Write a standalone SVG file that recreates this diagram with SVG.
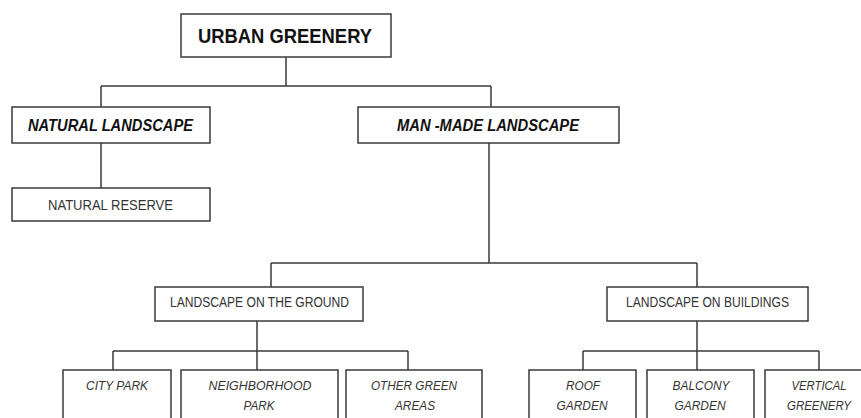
<svg xmlns="http://www.w3.org/2000/svg" width="861" height="418" viewBox="0 0 861 418">
<style>
.box{fill:#fff;stroke:#3a3a3a;stroke-width:1.5}
.ln{fill:none;stroke:#3a3a3a;stroke-width:1.5}
text{font-family:"Liberation Sans",Arial,sans-serif;text-anchor:middle}
.t1{font-size:21px;font-weight:bold;fill:#111}
.t2{font-size:16px;font-weight:bold;font-style:italic;fill:#111}
.t3{font-size:14px;fill:#333}
.t4{font-size:13px;font-style:italic;fill:#333}
</style>
<rect width="861" height="418" fill="#fff"/>
<g id="connectors">
<path class="ln" d="M286 57V86M101 86H491M101 86V107M491 86V107"/>
<path class="ln" d="M101 143V188"/>
<path class="ln" d="M489 143V263M271 263H697M271 263V287M697 263V287"/>
<path class="ln" d="M257 321V370M113 351H408M113 351V370M408 351V370"/>
<path class="ln" d="M697 321V370M583 351H819M583 351V370M819 351V370"/>
</g>
<g id="urban-greenery"><rect class="box" x="181" y="14" width="210" height="43"/><text class="t1" x="285" y="43" textLength="174" lengthAdjust="spacingAndGlyphs">URBAN GREENERY</text></g>
<g id="natural-landscape"><rect class="box" x="12" y="107" width="198" height="36"/><text class="t2" x="110.5" y="131" textLength="165" lengthAdjust="spacingAndGlyphs">NATURAL LANDSCAPE</text></g>
<g id="man-made-landscape"><rect class="box" x="358" y="107" width="261" height="36"/><text class="t2" x="488" y="131" textLength="182" lengthAdjust="spacingAndGlyphs">MAN -MADE LANDSCAPE</text></g>
<g id="natural-reserve"><rect class="box" x="12" y="188" width="198" height="33"/><text class="t3" x="110.5" y="210" textLength="125" lengthAdjust="spacingAndGlyphs">NATURAL RESERVE</text></g>
<g id="landscape-ground"><rect class="box" x="155" y="287" width="208" height="34"/><text class="t3" x="259.5" y="307" textLength="179" lengthAdjust="spacingAndGlyphs">LANDSCAPE ON THE GROUND</text></g>
<g id="landscape-buildings"><rect class="box" x="607" y="287" width="201" height="34"/><text class="t3" x="707.5" y="307" textLength="163" lengthAdjust="spacingAndGlyphs">LANDSCAPE ON BUILDINGS</text></g>
<g id="city-park"><rect class="box" x="63" y="370" width="108" height="60"/><text class="t4" x="117" y="390" textLength="62" lengthAdjust="spacingAndGlyphs">CITY PARK</text></g>
<g id="neighborhood-park"><rect class="box" x="181" y="370" width="157" height="60"/><text class="t4" x="260" y="390" textLength="103" lengthAdjust="spacingAndGlyphs">NEIGHBORHOOD</text><text class="t4" x="259" y="410" textLength="31" lengthAdjust="spacingAndGlyphs">PARK</text></g>
<g id="other-green-areas"><rect class="box" x="346" y="370" width="136" height="60"/><text class="t4" x="414" y="390" textLength="86" lengthAdjust="spacingAndGlyphs">OTHER GREEN</text><text class="t4" x="415" y="410" textLength="40" lengthAdjust="spacingAndGlyphs">AREAS</text></g>
<g id="roof-garden"><rect class="box" x="529" y="370" width="107" height="60"/><text class="t4" x="583" y="390" textLength="34" lengthAdjust="spacingAndGlyphs">ROOF</text><text class="t4" x="582" y="410" textLength="51" lengthAdjust="spacingAndGlyphs">GARDEN</text></g>
<g id="balcony-garden"><rect class="box" x="647" y="370" width="107" height="60"/><text class="t4" x="701" y="390" textLength="57" lengthAdjust="spacingAndGlyphs">BALCONY</text><text class="t4" x="700" y="410" textLength="51" lengthAdjust="spacingAndGlyphs">GARDEN</text></g>
<g id="vertical-greenery"><rect class="box" x="765" y="370" width="110" height="60"/><text class="t4" x="819" y="390" textLength="55" lengthAdjust="spacingAndGlyphs">VERTICAL</text><text class="t4" x="819" y="410" textLength="64" lengthAdjust="spacingAndGlyphs">GREENERY</text></g>
</svg>
